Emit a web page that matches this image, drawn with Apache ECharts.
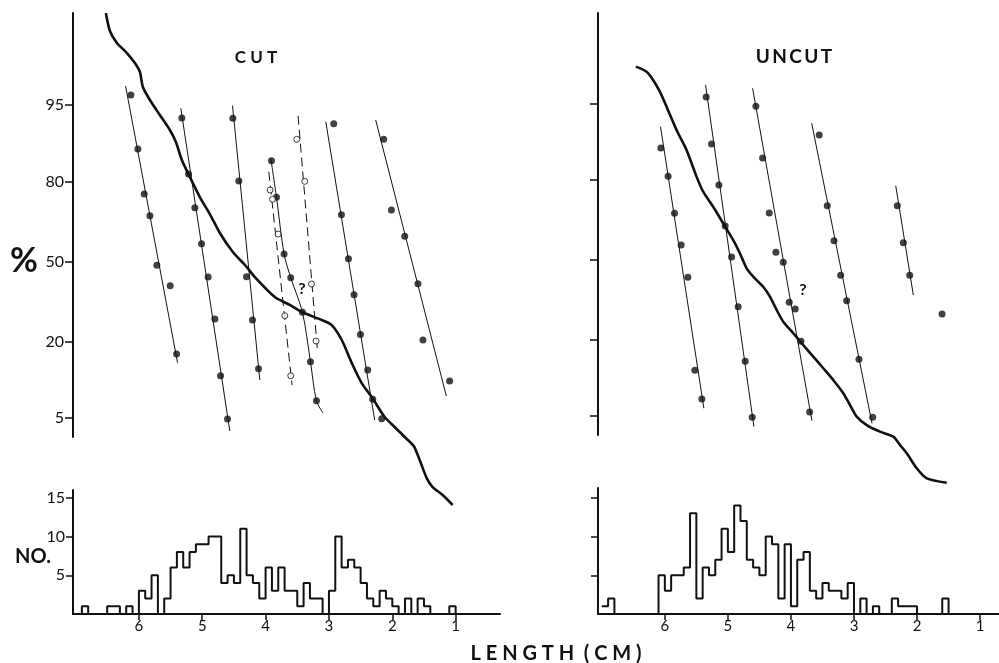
<!DOCTYPE html>
<html>
<head>
<meta charset="utf-8">
<script src="https://cdn.jsdelivr.net/npm/echarts@6/dist/echarts.min.js"></script>
<style>
html,body{margin:0;padding:0;background:#fff;}
#chart{width:999px;height:663px;}
</style>
</head>
<body>
<div id="chart"></div>
<script>
// ---------------- DATA ----------------
// Length axis tick labels (cm) and count axis tick labels
const lengthTicks = [6, 5, 4, 3, 2, 1];
const countTicks = [5, 10, 15];
// Cumulative-percent tick labels (probability scale)
const pctTicks = [5, 20, 50, 80, 95];

// Histogram bins: upper edge of each 0.1 cm bin (cm)
const histEdges = [7.0,6.9,6.8,6.7,6.6,6.5,6.4,6.3,6.2,6.1,
                   6.0,5.9,5.8,5.7,5.6,5.5,5.4,5.3,5.2,5.1,
                   5.0,4.9,4.8,4.7,4.6,4.5,4.4,4.3,4.2,4.1,
                   4.0,3.9,3.8,3.7,3.6,3.5,3.4,3.3,3.2,3.1,
                   3.0,2.9,2.8,2.7,2.6,2.5,2.4,2.3,2.2,2.1,
                   2.0,1.9,1.8,1.7,1.6,1.5,1.4,1.3,1.2,1.1];
const histLastEdge = 1.0;
const cutCounts = [0,1,0,0,0,1,1,0,1,0,
                   3,2,5,0,2,6,8,6,8,9,
                   9,10,10,4,5,4,11,5,4,2,
                   6,3,6,3,3,1,4,2,2,0,
                   3,10,6,7,6,4,2,1,3,2,
                   1,0,2,0,2,1,0,0,0,1];
const uncutCounts = [1,2,0,0,0,0,0,0,0,5,
                     3,5,5,6,13,2,6,5,7,11,
                     8,14,12,7,6,5,10,9,2,9,
                     1,7,8,3,2,4,3,3,2,4,
                     0,2,0,1,0,0,2,1,1,1,
                     0,0,0,0,2,0,0,0,0,0];

// Probability plots: points as [length cm, normal score (probit) of cumulative %]
// CUT - filled points
const cutPts1 = [[6.126,1.751],[6.016,1.183],[5.916,0.710],[5.826,0.482],[5.716,-0.040],[5.506,-0.254],[5.405,-0.973]];
const cutPts2 = [[5.322,1.509],[5.216,0.920],[5.117,0.566],[5.011,0.187],[4.907,-0.163],[4.801,-0.605],[4.711,-1.201],[4.601,-1.656]];
const cutPts3 = [[4.517,1.506],[4.423,0.846],[4.301,-0.160],[4.207,-0.615],[4.112,-1.127]];
const cutPts4 = [[3.907,1.060],[3.828,0.675],[3.708,0.079],[3.603,-0.170],[3.418,-0.534],[3.292,-1.054],[3.197,-1.464]];
const cutPts5 = [[2.924,1.449],[2.803,0.492],[2.692,0.029],[2.604,-0.349],[2.503,-0.766],[2.388,-1.141],[2.309,-1.449],[2.167,-1.653]];
const cutPts6 = [[2.136,1.285],[2.014,0.542],[1.804,0.265],[1.595,-0.233],[1.516,-0.825],[1.095,-1.257]];
// CUT - open points
const cutOpenA = [[3.929,0.752],[3.891,0.654],[3.803,0.289],[3.697,-0.570],[3.603,-1.201]];
const cutOpenB = [[3.508,1.285],[3.382,0.843],[3.276,-0.237],[3.203,-0.836]];
// CUT - fitted lines
const cutFit1 = [[6.210,1.845],[5.390,-1.064]];
const cutFit2 = [[5.338,1.611],[4.565,-1.782]];
const cutFit3 = [[4.522,1.638],[4.091,-1.246]];
const cutFit4 = [[3.918,1.085],[3.828,0.675],[3.708,0.079],[3.603,-0.170],[3.418,-0.534],[3.292,-1.054],[3.197,-1.464],[3.093,-1.593]];
const cutFit5 = [[3.050,1.470],[2.278,-1.667]];
const cutFit6 = [[2.262,1.488],[1.147,-1.414]];
const cutDashA = [[3.950,0.944],[3.582,-1.299]];
const cutDashB = [[3.487,1.533],[3.181,-0.938]];
// CUT - overall cumulative curve
const cutCurve = [[6.521,2.613],[6.457,2.424],[6.347,2.298],[6.189,2.192],[6.063,2.087],[5.984,1.993],[5.937,1.835],
  [5.826,1.698],[5.669,1.540],[5.511,1.383],[5.416,1.257],[5.322,1.067],[5.196,0.889],[5.038,0.678],[4.880,0.499],
  [4.722,0.300],[4.517,0.100],[4.312,-0.047],[4.170,-0.163],[3.855,-0.373],[3.618,-0.457],[3.429,-0.531],[3.114,-0.615],
  [2.956,-0.668],[2.798,-0.825],[2.640,-1.067],[2.483,-1.278],[2.325,-1.425],[2.120,-1.635],[1.962,-1.740],[1.804,-1.845],
  [1.662,-1.940],[1.568,-2.087],[1.457,-2.277],[1.363,-2.371],[1.205,-2.455],[1.047,-2.560]];

// UNCUT - points
const uncutPts1 = [[6.063,1.181],[5.948,0.883],[5.846,0.493],[5.741,0.158],[5.635,-0.182],[5.524,-1.164],[5.413,-1.466]];
const uncutPts2 = [[5.344,1.719],[5.259,1.224],[5.143,0.791],[5.043,0.359],[4.941,0.032],[4.837,-0.493],[4.725,-1.069],[4.614,-1.659]];
const uncutPts3 = [[4.556,1.621],[4.449,1.076],[4.344,0.496],[4.238,0.081],[4.122,-0.024],[4.027,-0.446],[3.932,-0.517],[3.841,-0.858],[3.703,-1.603]];
const uncutPts4 = [[3.551,1.319],[3.424,0.573],[3.317,0.204],[3.211,-0.161],[3.116,-0.429],[2.921,-1.047],[2.703,-1.659]];
const uncutPts5 = [[2.313,0.573],[2.217,0.182],[2.116,-0.161],[1.603,-0.570]];
// UNCUT - fitted lines
const uncutFit1 = [[6.068,1.406],[5.381,-1.564]];
const uncutFit2 = [[5.354,1.846],[4.587,-1.758]];
const uncutFit3 = [[4.608,1.811],[3.667,-1.695]];
const uncutFit4 = [[3.671,1.442],[2.714,-1.723]];
const uncutFit5 = [[2.338,0.784],[2.059,-0.369]];
// UNCUT - overall cumulative curve
const uncutCurve = [[6.460,2.039],[6.290,1.986],[6.186,1.899],[6.079,1.775],[5.973,1.617],[5.814,1.371],[5.656,1.160],
  [5.497,0.879],[5.392,0.720],[5.233,0.562],[5.075,0.387],[4.917,0.211],[4.810,0.071],[4.703,-0.088],[4.598,-0.176],
  [4.440,-0.282],[4.333,-0.387],[4.227,-0.527],[4.122,-0.651],[3.963,-0.773],[3.805,-0.897],[3.646,-1.020],[3.487,-1.142],
  [3.329,-1.266],[3.170,-1.406],[3.063,-1.530],[2.957,-1.653],[2.798,-1.741],[2.587,-1.811],[2.376,-1.864],[2.270,-1.951],
  [2.163,-2.039],[2.005,-2.197],[1.846,-2.303],[1.529,-2.349]];

// ---------------- HELPERS ----------------
function probit(p){
  const a=[-3.969683028665376e+01,2.209460984245205e+02,-2.759285104469687e+02,1.383577518672690e+02,-3.066479806614716e+01,2.506628277459239e+00];
  const b=[-5.447609879822406e+01,1.615858368580409e+02,-1.556989798598866e+02,6.680131188771972e+01,-1.328068155288572e+01];
  const c=[-7.784894002430293e-03,-3.223964580411365e-01,-2.400758277161838e+00,-2.549732539343734e+00,4.374664141464968e+00,2.938163982698783e+00];
  const d=[7.784695709041462e-03,3.224671290700398e-01,2.445134137142996e+00,3.754408661907416e+00];
  const pl=0.02425, ph=1-pl; let q,r;
  if(p<pl){q=Math.sqrt(-2*Math.log(p));return (((((c[0]*q+c[1])*q+c[2])*q+c[3])*q+c[4])*q+c[5])/((((d[0]*q+d[1])*q+d[2])*q+d[3])*q+1);}
  if(p>ph){q=Math.sqrt(-2*Math.log(1-p));return -(((((c[0]*q+c[1])*q+c[2])*q+c[3])*q+c[4])*q+c[5])/((((d[0]*q+d[1])*q+d[2])*q+d[3])*q+1);}
  q=p-0.5;r=q*q;
  return (((((a[0]*r+a[1])*r+a[2])*r+a[3])*r+a[4])*r+a[5])*q/(((((b[0]*r+b[1])*r+b[2])*r+b[3])*r+b[4])*r+1);
}
const pctTickZ = pctTicks.map(p => probit(p / 100));
function pctLabel(v){
  let best = 0;
  pctTickZ.forEach((z, i) => { if (Math.abs(z - v) < Math.abs(pctTickZ[best] - v)) best = i; });
  return String(pctTicks[best]);
}
function histData(counts){
  const d = histEdges.map((e, i) => [e, counts[i]]);
  d.push([histLastEdge, 0]);
  return d;
}

const FONT = 'Lato, "DejaVu Sans", sans-serif';
const BLACK = '#111';

function pts(idx, data){
  return {type:'scatter', xAxisIndex:idx, yAxisIndex:idx, data:data, symbol:'circle', symbolSize:7,
    itemStyle:{color:BLACK}, silent:true, z:5};
}
function openPts(idx, data){
  return {type:'scatter', xAxisIndex:idx, yAxisIndex:idx, data:data, symbol:'circle', symbolSize:6,
    itemStyle:{color:'#fff', borderColor:BLACK, borderWidth:1}, silent:true, z:6};
}
function fit(idx, data, dashed, smooth){
  return {type:'line', xAxisIndex:idx, yAxisIndex:idx, data:data, symbol:'none', smooth: smooth || false,
    lineStyle:{color:BLACK, width:1, type: dashed ? [9,5] : 'solid'}, silent:true, z:3, clip:false};
}
function curve(idx, data){
  return {type:'line', xAxisIndex:idx, yAxisIndex:idx, data:data, symbol:'none', smooth:0.25,
    lineStyle:{color:BLACK, width:2.6}, silent:true, z:4, clip:false};
}
function hist(idx, counts){
  return {type:'line', xAxisIndex:idx, yAxisIndex:idx, data:histData(counts), step:'end', symbol:'none',
    lineStyle:{color:BLACK, width:2}, silent:true, z:4};
}

const axisLineStyle = {show:true, lineStyle:{color:BLACK, width:2}};

function probY(idx, showLabels, min, max){
  return {type:'value', gridIndex:idx, min:min, max:max,
    axisLine:axisLineStyle,
    axisTick:{show:true, inside:false, length:8, customValues:pctTickZ, lineStyle:{color:BLACK, width:1.5}},
    axisLabel:{show:showLabels, customValues:pctTickZ, formatter:pctLabel, margin:9, fontSize:16, color:BLACK, fontFamily:FONT},
    splitLine:{show:false}};
}
function lenX(idx, min, max, showAxis){
  if (!showAxis) return {type:'value', gridIndex:idx, min:min, max:max, inverse:true, show:false};
  return {type:'value', gridIndex:idx, min:min, max:max, inverse:true,
    axisLine:axisLineStyle,
    axisTick:{show:true, inside:false, length:6, customValues:lengthTicks, lineStyle:{color:BLACK, width:1.5}},
    axisLabel:{show:true, customValues:lengthTicks, margin:5, fontSize:15, color:BLACK, fontFamily:FONT},
    splitLine:{show:false}};
}
function countY(idx, showLabels, max){
  return {type:'value', gridIndex:idx, min:0, max:max,
    axisLine:axisLineStyle,
    axisTick:{show:true, inside:false, length:7, customValues:countTicks, lineStyle:{color:BLACK, width:1.5}},
    axisLabel:{show:showLabels, customValues:countTicks, margin:8, fontSize:16, color:BLACK, fontFamily:FONT},
    splitLine:{show:false}};
}

const chart = echarts.init(document.getElementById('chart'), null, {renderer:'canvas'});
const option = {
  backgroundColor:'#fff',
  animation:false,
  grid:[
    {left:73, top:13, width:427, height:424, outerBoundsMode:'none', containLabel:false},
    {left:598, top:13, width:401, height:422, outerBoundsMode:'none', containLabel:false},
    {left:73, top:490, width:427, height:124, outerBoundsMode:'none', containLabel:false},
    {left:598, top:488, width:401, height:126, outerBoundsMode:'none', containLabel:false}
  ],
  xAxis:[
    lenX(0, 0.30, 7.04, false),
    lenX(1, 0.70, 7.06, false),
    lenX(2, 0.30, 7.04, true),
    lenX(3, 0.70, 7.06, true)
  ],
  yAxis:[
    probY(0, true, -1.845, 2.613),
    probY(1, false, -1.846, 2.605),
    countY(2, true, 16.0),
    countY(3, false, 16.26)
  ],
  series:[
    fit(0, cutFit1), fit(0, cutFit2), fit(0, cutFit3), fit(0, cutFit4, false, 0.3), fit(0, cutFit5), fit(0, cutFit6),
    fit(0, cutDashA, true), fit(0, cutDashB, true),
    pts(0, cutPts1), pts(0, cutPts2), pts(0, cutPts3), pts(0, cutPts4), pts(0, cutPts5), pts(0, cutPts6),
    openPts(0, cutOpenA), openPts(0, cutOpenB),
    curve(0, cutCurve),
    fit(1, uncutFit1), fit(1, uncutFit2), fit(1, uncutFit3), fit(1, uncutFit4), fit(1, uncutFit5),
    pts(1, uncutPts1), pts(1, uncutPts2), pts(1, uncutPts3), pts(1, uncutPts4), pts(1, uncutPts5),
    curve(1, uncutCurve),
    hist(2, cutCounts),
    hist(3, uncutCounts)
  ],
  graphic:[
    {type:'text', x:256, y:58, style:{text:'C U T', fill:BLACK, font:'bold 17px ' + FONT, align:'center', verticalAlign:'middle'}},
    {type:'text', x:794, y:57, style:{text:'U\u2009N\u2009C\u2009U\u2009T', fill:BLACK, font:'bold 19px ' + FONT, align:'center', verticalAlign:'middle'}},
    {type:'text', x:24, y:261, style:{text:'%', fill:BLACK, font:'bold 34px ' + FONT, align:'center', verticalAlign:'middle'}},
    {type:'text', x:33, y:557, style:{text:'NO.', fill:BLACK, font:'bold 20px ' + FONT, align:'center', verticalAlign:'middle'}},
    {type:'text', x:556, y:654, style:{text:'L E N G T H  ( C M )', fill:BLACK, font:'bold 20px ' + FONT, align:'center', verticalAlign:'middle'}},
    {type:'text', x:302, y:289, style:{text:'?', fill:BLACK, font:'bold 16px ' + FONT, align:'center', verticalAlign:'middle'}},
    {type:'text', x:803, y:290, style:{text:'?', fill:BLACK, font:'bold 16px ' + FONT, align:'center', verticalAlign:'middle'}}
  ]
};
chart.setOption(option);
</script>
</body>
</html>
